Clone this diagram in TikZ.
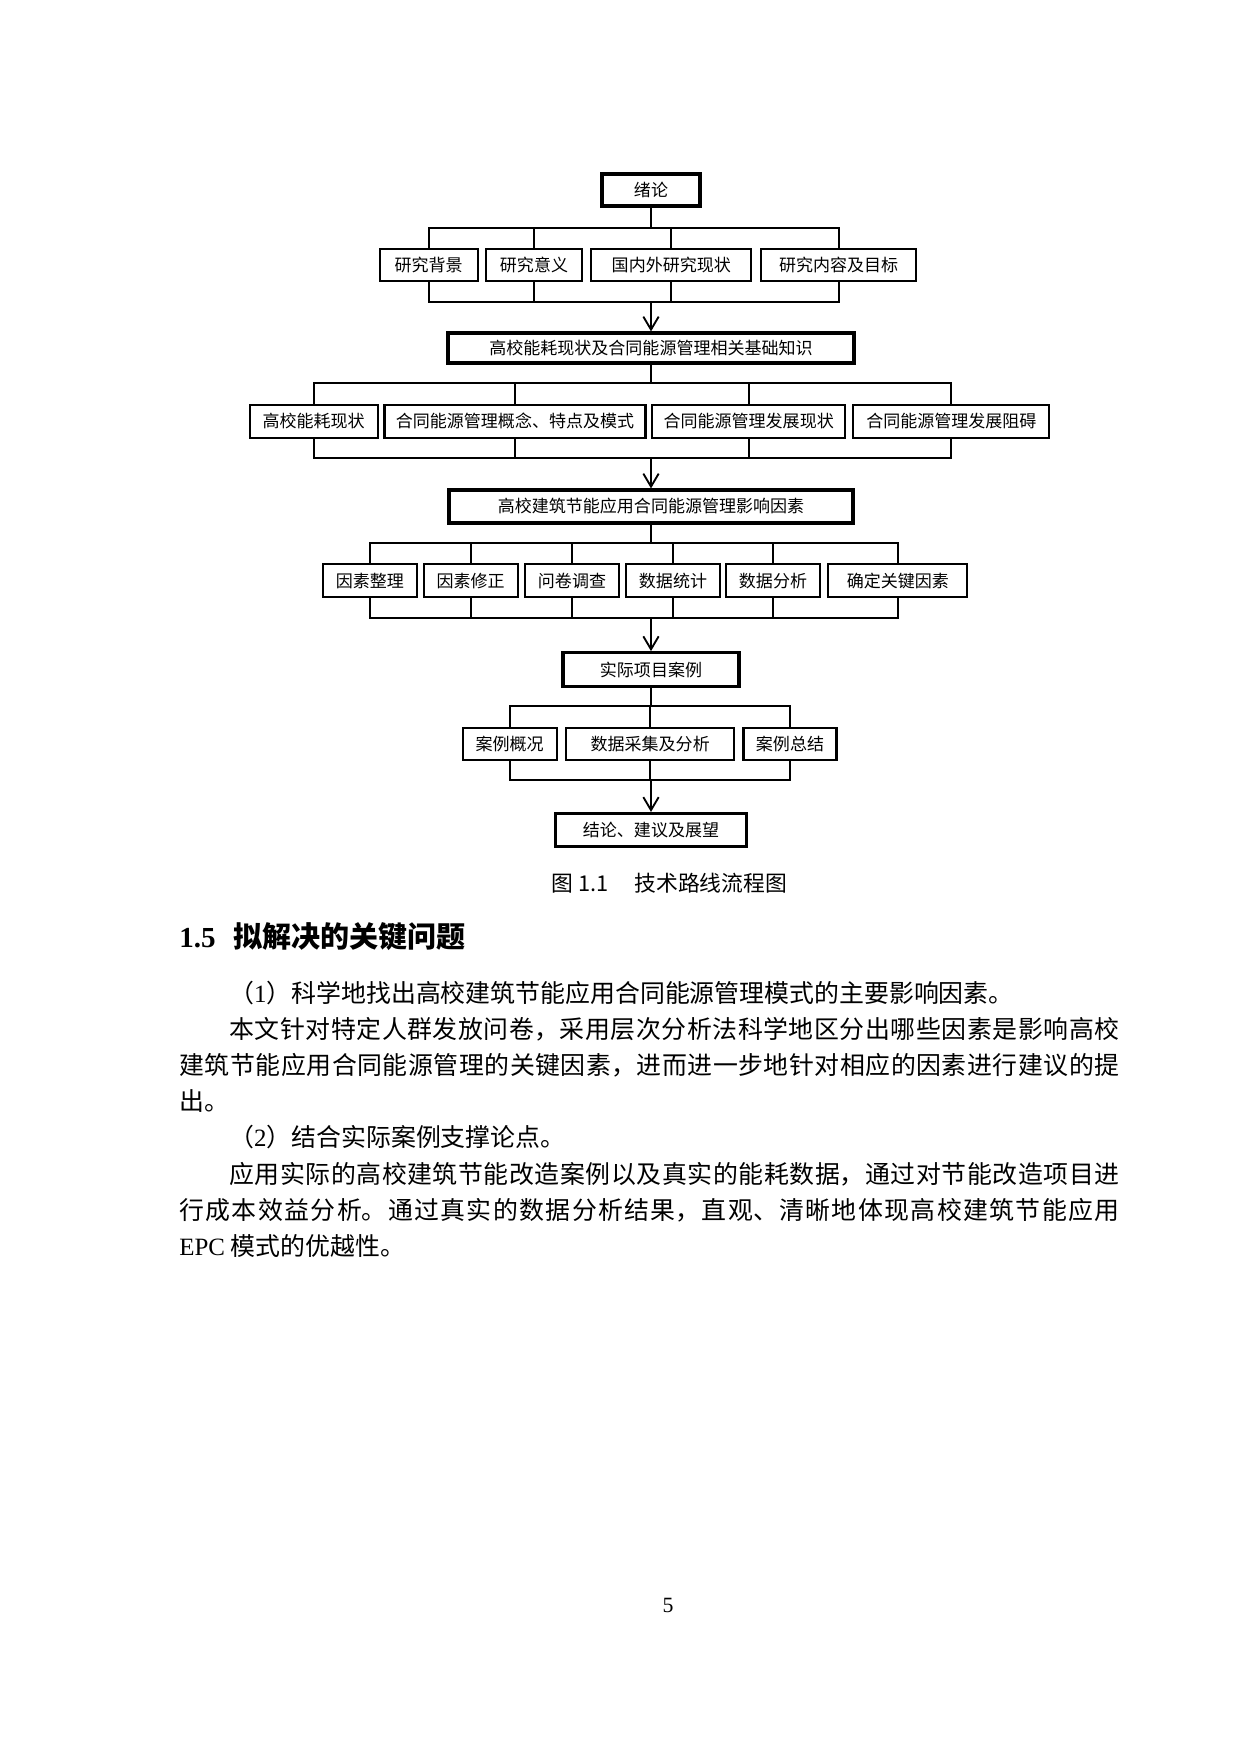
\documentclass[tikz,border=0pt]{standalone}
\usepackage{fontspec}
\setmainfont{Liberation Serif}
\newfontfamily\cjk{Noto Sans CJK SC}
\usetikzlibrary{arrows.meta, positioning}
\XeTeXlinebreaklocale "zh"
\XeTeXlinebreakskip=0pt plus 1pt
\def\pu{0.16935mm}

\begin{document}
\begin{tikzpicture}[x=0.16935mm, y=-0.16935mm,
    main/.style={draw, line width=1.5pt, inner sep=0pt, font=\cjk\fontsize{8.2pt}{10pt}\selectfont},
    sub/.style={draw, line width=1pt, inner sep=0pt, minimum height=32*\pu, font=\cjk\fontsize{8.2pt}{10pt}\selectfont},
    ln/.style={line width=0.9pt},
    arr/.style={line width=0.9pt, -{Straight Barb[length=2.2mm, width=2.6mm]}}
]
\useasboundingbox (0,0) rectangle (1240,1754);

% Level 1
\node[main, minimum width=98*\pu, minimum height=32*\pu] (xulun) at (651,190) {绪论};
\node[sub, minimum width=98*\pu] (beijing) at (428.7,265) {研究背景};
\node[sub, minimum width=96*\pu] (yiyi) at (534,265) {研究意义};
\node[sub, minimum width=160*\pu] (xianzhuang) at (671.3,265) {国内外研究现状};
\node[sub, minimum width=155*\pu] (mubiao) at (838.6,265) {研究内容及目标};
\coordinate (t1) at (651,228.3);
\coordinate (u1) at (651,301.7);
\draw[ln] (xulun.south) -- (t1);
\draw[ln] (beijing.north) |- (mubiao.north |- t1) -- (mubiao.north);
\draw[ln] (yiyi.north) -- (yiyi.north |- t1);
\draw[ln] (xianzhuang.north) -- (xianzhuang.north |- t1);
\draw[ln] (beijing.south) |- (mubiao.south |- u1) -- (mubiao.south);
\draw[ln] (yiyi.south) -- (yiyi.south |- u1);
\draw[ln] (xianzhuang.south) -- (xianzhuang.south |- u1);

% Level 2
\node[main, minimum width=406*\pu, minimum height=30*\pu] (jichu) at (651,348) {高校能耗现状及合同能源管理相关基础知识};
\draw[arr] (u1) -- (jichu.north);
\node[sub, minimum width=128*\pu, minimum height=33*\pu] (nenghao) at (313.7,421.3) {高校能耗现状};
\node[sub, minimum width=261*\pu, minimum height=33*\pu] (gainian) at (515,421.3) {合同能源管理概念、特点及模式};
\node[sub, minimum width=193*\pu, minimum height=33*\pu] (fazhan) at (748.7,421.3) {合同能源管理发展现状};
\node[sub, minimum width=196*\pu, minimum height=33*\pu] (zhangai) at (951.4,421.3) {合同能源管理发展阻碍};
\coordinate (t2) at (651,383.3);
\coordinate (u2) at (651,457.7);
\draw[ln] (jichu.south) -- (t2);
\draw[ln] (nenghao.north) |- (zhangai.north |- t2) -- (zhangai.north);
\draw[ln] (gainian.north) -- (gainian.north |- t2);
\draw[ln] (fazhan.north) -- (fazhan.north |- t2);
\draw[ln] (nenghao.south) |- (zhangai.south |- u2) -- (zhangai.south);
\draw[ln] (gainian.south) -- (gainian.south |- u2);
\draw[ln] (fazhan.south) -- (fazhan.south |- u2);

% Level 3
\node[main, minimum width=404*\pu, minimum height=33*\pu] (yingxiang) at (651,506.5) {高校建筑节能应用合同能源管理影响因素};
\draw[arr] (u2) -- (yingxiang.north);
\node[sub, minimum width=94*\pu, minimum height=33*\pu] (zhengli) at (369.9,580.8) {因素整理};
\node[sub, minimum width=94*\pu, minimum height=33*\pu] (xiuzheng) at (470.6,580.8) {因素修正};
\node[sub, minimum width=94*\pu, minimum height=33*\pu] (wenjuan) at (572,580.8) {问卷调查};
\node[sub, minimum width=94*\pu, minimum height=33*\pu] (tongji) at (673,580.8) {数据统计};
\node[sub, minimum width=94*\pu, minimum height=33*\pu] (fenxi) at (773,580.8) {数据分析};
\node[sub, minimum width=139*\pu, minimum height=33*\pu] (guanjian) at (897.8,580.8) {确定关键因素};
\coordinate (t3) at (651,542.7);
\coordinate (u3) at (651,618.3);
\draw[ln] (yingxiang.south) -- (t3);
\draw[ln] (zhengli.north) |- (guanjian.north |- t3) -- (guanjian.north);
\draw[ln] (zhengli.south) |- (guanjian.south |- u3) -- (guanjian.south);
\draw[ln] (xiuzheng.north) -- (xiuzheng.north |- t3);
\draw[ln] (wenjuan.north) -- (wenjuan.north |- t3);
\draw[ln] (tongji.north) -- (tongji.north |- t3);
\draw[ln] (fenxi.north) -- (fenxi.north |- t3);
\draw[ln] (xiuzheng.south) -- (xiuzheng.south |- u3);
\draw[ln] (wenjuan.south) -- (wenjuan.south |- u3);
\draw[ln] (tongji.south) -- (tongji.south |- u3);
\draw[ln] (fenxi.south) -- (fenxi.south |- u3);

% Level 4
\node[main, minimum width=176*\pu, minimum height=34*\pu] (anli) at (651,669.7) {实际项目案例};
\draw[arr] (u3) -- (anli.north);
\node[sub, minimum width=94*\pu] (gaikuang) at (509.7,743.8) {案例概况};
\node[sub, minimum width=168*\pu] (caiji) at (650.2,743.8) {数据采集及分析};
\node[sub, minimum width=93*\pu] (zongjie) at (790,743.8) {案例总结};
\coordinate (t4) at (651,706);
\coordinate (u4) at (651,780);
\draw[ln] (anli.south) -- (t4);
\draw[ln] (gaikuang.north) |- (zongjie.north |- t4) -- (zongjie.north);
\draw[ln] (gaikuang.south) |- (zongjie.south |- u4) -- (zongjie.south);
\draw[ln] (caiji.north) -- (caiji.north |- t4);
\draw[ln] (caiji.south) -- (caiji.south |- u4);

% Level 5
\node[main, minimum width=191*\pu, minimum height=33*\pu] (jielun) at (651,830) {结论、建议及展望};
\draw[arr] (u4) -- (jielun.north);

% Caption and text
\node[anchor=west, inner sep=0pt, font=\cjk\fontsize{10.5pt}{12pt}\selectfont] (caption) at (551,883) {图 1.1\hspace{1.2em}技术路线流程图};

\node[anchor=west, inner sep=0pt] (heading) at (179,937) {\fontsize{14pt}{16pt}\selectfont\bfseries 1.5\hspace{0.6em}{\cjk\fontsize{14pt}{16pt}\selectfont 拟解决的关键问题}};

\node[anchor=base west, inner sep=0pt, text width=453pt, align=justify, font=\cjk\fontsize{12pt}{17.4pt}\selectfont] (body) at (179,1002.5) {\parindent=0pt
\hspace*{2em}（\textrm{1}）科学地找出高校建筑节能应用合同能源管理模式的主要影响因素。\par
\hspace*{2em}本文针对特定人群发放问卷，采用层次分析法科学地区分出哪些因素是影响高校\break
建筑节能应用合同能源管理的关键因素，进而进一步地针对相应的因素进行建议的提\break
出。\par
\hspace*{2em}（\textrm{2}）结合实际案例支撑论点。\par
\hspace*{2em}应用实际的高校建筑节能改造案例以及真实的能耗数据，通过对节能改造项目进\break
行成本效益分析。通过真实的数据分析结果，直观、清晰地体现高校建筑节能应用\break
\textrm{EPC} 模式的优越性。};

\node[font=\fontsize{10.5pt}{12pt}\selectfont] (pagenum) at (668,1605) {5};

\end{tikzpicture}
\end{document}
